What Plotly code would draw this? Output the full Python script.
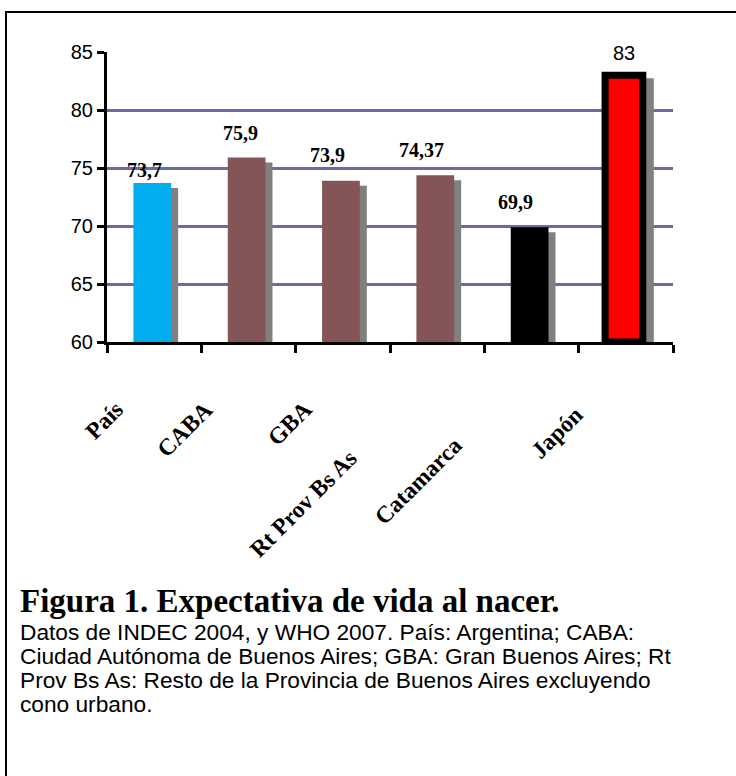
import plotly.graph_objects as go

# ---------------- data ----------------
categories = ["País", "CABA", "GBA", "Rt Prov Bs As", "Catamarca", "Japón"]
values = [73.7, 75.9, 73.9, 74.37, 69.9, 83]
value_labels = ["73,7", "75,9", "73,9", "74,37", "69,9", "83"]
y_ticks = [60, 65, 70, 75, 80, 85]

caption_title = "Figura 1. Expectativa de vida al nacer."
caption_lines = [
    "Datos de INDEC 2004, y WHO 2007. País: Argentina; CABA:",
    "Ciudad Autónoma de Buenos Aires; GBA: Gran Buenos Aires; Rt",
    "Prov Bs As: Resto de la Provincia de Buenos Aires excluyendo",
    "cono urbano.",
]

# ---------------- styles / layout ----------------
bar_colors = ["#00AEEF", "#855457", "#855457", "#855457", "#000000", "#FF0000"]
bar_line_widths = [0, 0, 0, 0, 0, 7]
label_fonts = ["Liberation Serif"] * 5 + ["Liberation Sans"]
label_weights = ["bold"] * 5 + ["normal"]
label_dx = [-10, -8, -15, -16, -16, -2]
label_dy = [13, 25, 26, 25, 25, 22]
xl_dx = [-23, -28, -23, -73, -62, -36]
xl_dy = [51, 51, 51, 100, 87, 57]
shadow_dx = [7, 7, 7, 7, 7, 11]
shadow_dy = [5, 5, 5, 5, 5, 3]

W, H = 736, 776
L, R, T, B = 107, 63, 52, 434
PW = W - L - R
PH = H - T - B
Y0, Y1 = y_ticks[0], y_ticks[-1]
ppu = PH / (Y1 - Y0)
cat_w = PW / len(categories)

BAR_W = 0.4
BAR_OFF = -0.22


def xp(p):
    return (p - L) / PW


def yp(p):
    return (T + PH - p) / PH


fig = go.Figure()

# shadows
shadow_base = Y0 - 3 / ppu
fig.add_trace(go.Bar(
    x=categories,
    y=[v - shadow_dy[i] / ppu - shadow_base for i, v in enumerate(values)],
    base=shadow_base,
    width=BAR_W,
    offset=[BAR_OFF + d / cat_w for d in shadow_dx],
    marker=dict(color="#808080", line=dict(width=0)),
    cliponaxis=False,
    hoverinfo="skip",
    showlegend=False,
))

# bars
fig.add_trace(go.Bar(
    x=categories,
    y=[v - Y0 for v in values],
    base=Y0,
    width=BAR_W,
    offset=BAR_OFF,
    marker=dict(color=bar_colors, line=dict(color="#000000", width=bar_line_widths)),
    cliponaxis=False,
    showlegend=False,
))

annotations = []
for i, (c, v, t) in enumerate(zip(categories, values, value_labels)):
    annotations.append(dict(
        x=c, y=v, xref="x", yref="y", text=t, showarrow=False,
        xanchor="center", yanchor="middle",
        xshift=label_dx[i], yshift=label_dy[i],
        font=dict(family=label_fonts[i], size=20, color="#000000", weight=label_weights[i]),
    ))
    annotations.append(dict(
        x=c, y=Y0, xref="x", yref="y", text=c, showarrow=False,
        xanchor="right", yanchor="top", textangle=-45,
        xshift=xl_dx[i], yshift=-xl_dy[i],
        font=dict(family="Liberation Serif", size=23.5, color="#000000", weight="bold"),
    ))

annotations.append(dict(
    x=xp(18), y=yp(601), xref="paper", yref="paper", text=caption_title,
    showarrow=False, xanchor="left", yanchor="middle",
    font=dict(family="Liberation Serif", size=33, color="#000000", weight="bold"),
))
for k, line in enumerate(caption_lines):
    annotations.append(dict(
        x=xp(18), y=yp(632 + 24 * k), xref="paper", yref="paper", text=line,
        showarrow=False, xanchor="left", yanchor="middle",
        font=dict(family="Liberation Sans", size=22.7, color="#000000"),
    ))

fig.update_layout(
    width=W, height=H,
    margin=dict(l=L, r=R, t=T, b=B, pad=0),
    paper_bgcolor="#FFFFFF", plot_bgcolor="#FFFFFF",
    barmode="overlay",
    annotations=annotations,
    shapes=[dict(
        type="path", xref="paper", yref="paper",
        path=f"M {xp(6)} {yp(800)} L {xp(6)} {yp(12)} L {xp(760)} {yp(12)}",
        line=dict(color="#000000", width=2), layer="above",
    )],
    xaxis=dict(
        type="category", range=[-0.5, len(categories) - 0.5],
        showticklabels=False, showgrid=False, zeroline=False,
        showline=True, linecolor="#000000", linewidth=3,
        ticks="outside", tickson="boundaries", ticklen=8, tickwidth=2.5, tickcolor="#000000",
        fixedrange=True,
    ),
    yaxis=dict(
        range=[Y0, Y1], tickvals=y_ticks, ticktext=[str(v) for v in y_ticks],
        showgrid=True, gridcolor="#6A6AA6", gridwidth=2.5, zeroline=False,
        showline=True, linecolor="#000000", linewidth=3,
        ticks="outside", ticklen=7, tickwidth=2.5, tickcolor="#000000",
        tickfont=dict(family="Liberation Sans", size=20, color="#000000"),
        fixedrange=True,
    ),
)

fig.write_html("out.html")
